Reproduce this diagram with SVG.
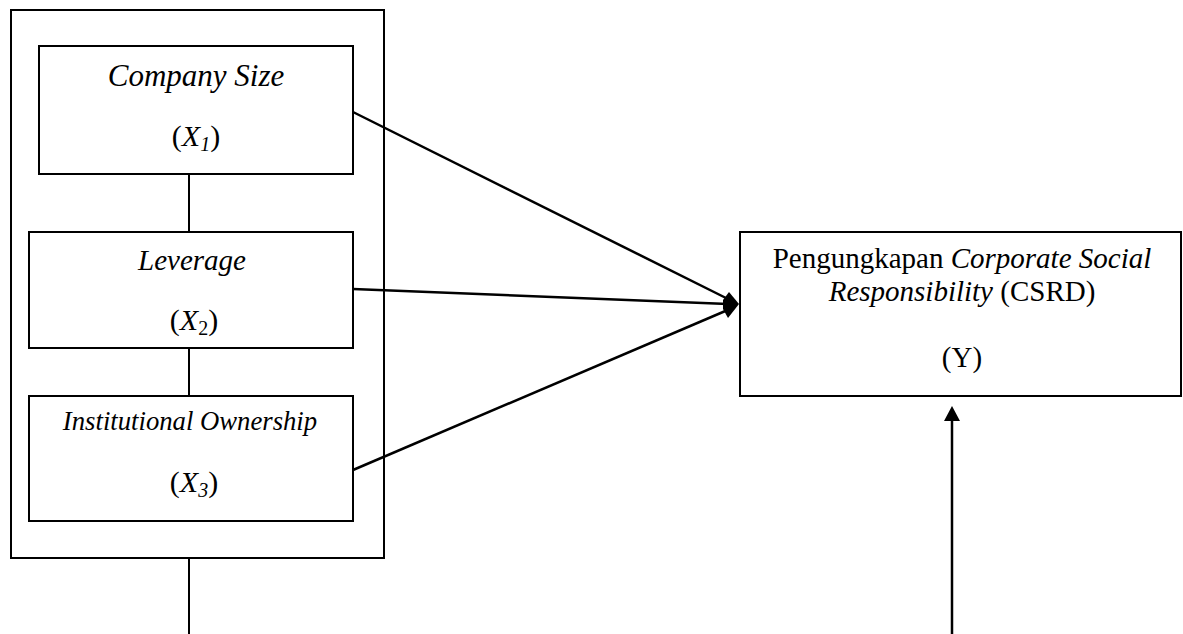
<svg xmlns="http://www.w3.org/2000/svg" width="1183" height="634" viewBox="0 0 1183 634">
<style>
.box{fill:#fff;stroke:#000;stroke-width:2}
.ln{stroke:#000;stroke-width:2;fill:none}
.ar{stroke:#000;stroke-width:2.5;fill:none}
text{font-family:"Liberation Serif","Times New Roman",serif;fill:#000;text-anchor:middle}
.i{font-style:italic}
</style>
<rect width="1183" height="634" fill="#fff"/>
<g id="group-box"><rect class="box" x="11" y="10" width="373" height="548"/></g>
<g id="connectors">
<line class="ln" x1="189" y1="174" x2="189" y2="232"/>
<line class="ln" x1="189" y1="348" x2="189" y2="396"/>
<line class="ln" x1="189" y1="558" x2="189" y2="634"/>
<line class="ar" x1="353" y1="112" x2="730" y2="300"/>
<line class="ar" x1="353" y1="289" x2="728" y2="304"/>
<line class="ar" x1="353" y1="470" x2="730" y2="309"/>
<polygon points="739,304 729,292 723,300 723,309 728,318" fill="#000"/>
<line class="ar" x1="952" y1="634" x2="952" y2="418"/>
<polygon points="952,406 944,421 960,421" fill="#000"/>
</g>
<g id="x1">
<rect class="box" x="39" y="46" width="314" height="128"/>
<text x="196" y="86" class="i" font-size="31">Company Size</text>
<text x="196" y="146" font-size="30">(<tspan class="i">X</tspan><tspan class="i" font-size="20" dy="5">1</tspan><tspan dy="-5">)</tspan></text>
</g>
<g id="x2">
<rect class="box" x="29" y="232" width="324" height="116"/>
<text x="192" y="270" class="i" font-size="29">Leverage</text>
<text x="194" y="330" font-size="30">(<tspan class="i">X</tspan><tspan font-size="20" dy="5">2</tspan><tspan dy="-5">)</tspan></text>
</g>
<g id="x3">
<rect class="box" x="29" y="396" width="324" height="125"/>
<text x="190" y="430" class="i" font-size="26.7">Institutional Ownership</text>
<text x="194" y="492" font-size="30">(<tspan class="i">X</tspan><tspan class="i" font-size="20" dy="5">3</tspan><tspan dy="-5">)</tspan></text>
</g>
<g id="y">
<rect class="box" x="740" y="232" width="441" height="164"/>
<text x="962" y="268" font-size="29">Pengungkapan <tspan class="i">Corporate Social</tspan></text>
<text x="962" y="301" font-size="29"><tspan class="i">Responsibility</tspan> (CSRD)</text>
<text x="962" y="367" font-size="29">(Y)</text>
</g>
</svg>
